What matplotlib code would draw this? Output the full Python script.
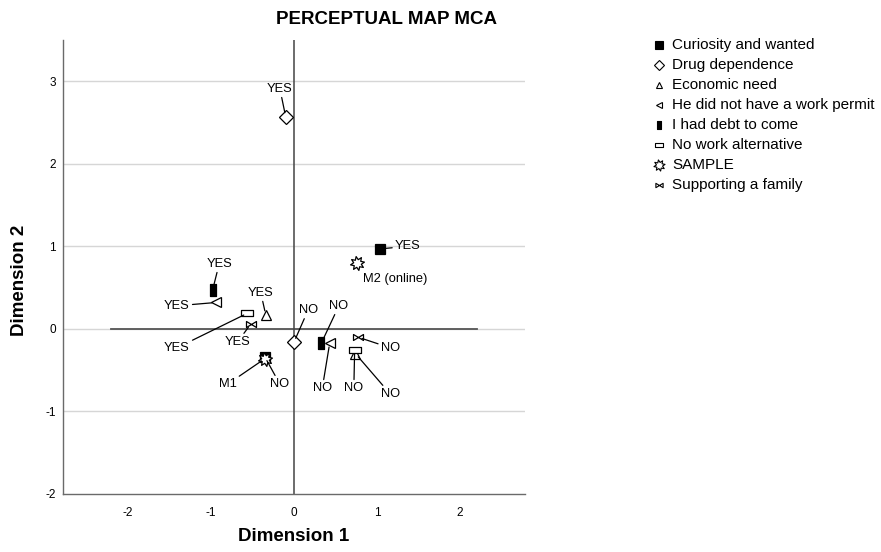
import numpy as np
import matplotlib
matplotlib.use("Agg")
import matplotlib.pyplot as plt
from matplotlib.path import Path
from matplotlib.lines import Line2D

plt.rcParams['font.family'] = ['Liberation Sans', 'DejaVu Sans']
plt.rcParams['axes.unicode_minus'] = False

# ---- data ----
variables = ["Curiosity and wanted", "Drug dependence", "Economic need",
             "He did not have a work permit", "I had debt to come",
             "No work alternative", "SAMPLE", "Supporting a family"]
cat_labels = [["YES", "NO"], ["YES", "NO"], ["YES", "NO"], ["YES", "NO"],
              ["YES", "NO"], ["YES", "NO"], ["M1", "M2 (online)"], ["YES", "NO"]]
dim1 = [[1.04, -0.35], [-0.10, 0.00], [-0.34, 0.74], [-0.94, 0.43],
        [-0.98, 0.33], [-0.56, 0.73], [-0.35, 0.76], [-0.52, 0.77]]
dim2 = [[0.97, -0.34], [2.57, -0.16], [0.17, -0.30], [0.32, -0.17],
        [0.47, -0.17], [0.19, -0.25], [-0.36, 0.80], [0.06, -0.10]]
# label text positions (data units)
lab_x = [[1.37, -0.17], [-0.17, 0.17], [-0.40, 1.16], [-1.41, 0.34],
         [-0.90, 0.54], [-1.41, 0.72], [-0.80, 1.22], [-0.68, 1.16]]
lab_y = [[1.00, -0.67], [2.91, 0.23], [0.44, -0.79], [0.28, -0.72],
         [0.79, 0.28], [-0.23, -0.72], [-0.67, 0.61], [-0.16, -0.23]]
leader = [[True, True], [True, True], [True, True], [True, True],
          [True, True], [True, True], [True, False], [True, True]]

# ---- marker shapes ----
def poly(verts):
    verts = list(verts) + [verts[0]]
    codes = [Path.MOVETO] + [Path.LINETO] * (len(verts) - 2) + [Path.CLOSEPOLY]
    return Path(verts, codes)

ang = np.linspace(0, 2 * np.pi, 17)[:-1] + np.pi / 16
rad = np.where(np.arange(16) % 2 == 0, 1.0, 0.55)
star = poly([(r * np.cos(a), r * np.sin(a)) for r, a in zip(rad, ang)])
tall_rect = poly([(-0.5, -1), (0.5, -1), (0.5, 1), (-0.5, 1)])
flat_rect = poly([(-1, -0.5), (1, -0.5), (1, 0.5), (-1, 0.5)])
bowtie = poly([(-1, 0.6), (-1, -0.6), (1, 0.6), (1, -0.6)])

mk = ['s', 'D', '^', '<', tall_rect, flat_rect, star, bowtie]
msize = [7.6, 7.2, 7.0, 7.0, 8.8, 8.8, 10.0, 7.2]
face = ['black', 'white', 'white', 'white', 'black', 'white', 'white', 'white']
leg_size = [5.4, 5.2, 4.4, 4.4, 5.4, 6.2, 8.0, 5.2]

fig = plt.figure(figsize=(8.81, 5.52), dpi=100)
ax = fig.add_axes([63 / 881, 1 - 494 / 552, (525 - 63) / 881, (494 - 40) / 552])
ax.set_xlim(-2.78, 2.78)
ax.set_ylim(-2.0, 3.5)

for sp in ['top', 'right']:
    ax.spines[sp].set_visible(False)
for sp in ['left', 'bottom']:
    ax.spines[sp].set_color('#6a6a6a')
    ax.spines[sp].set_linewidth(1.0)

ax.set_xticks([-2, -1, 0, 1, 2])
ax.set_yticks([-2, -1, 0, 1, 2, 3])
ax.tick_params(axis='x', length=0, labelsize=8.5, pad=9)
ax.tick_params(axis='y', length=0, labelsize=8.5, pad=5)
for yv in [-1, 0, 1, 2, 3]:
    ax.axhline(yv, color='#d6d6d6', lw=1.0, zorder=0)
ax.plot([-2.2, 2.2], [0, 0], color='#555555', lw=1.3, zorder=1)
ax.axvline(0, color='#444444', lw=1.1, zorder=1)

for i, var in enumerate(variables):
    ax.plot(dim1[i], dim2[i], linestyle='none', marker=mk[i], ms=msize[i],
            mfc=face[i], mec='black', mew=0.9, zorder=3)
    for j in range(2):
        if leader[i][j]:
            ax.annotate(cat_labels[i][j], xy=(dim1[i][j], dim2[i][j]),
                        xytext=(lab_x[i][j], lab_y[i][j]), ha='center', va='center',
                        fontsize=9.3, zorder=4,
                        arrowprops=dict(arrowstyle='-', color='black', lw=0.9,
                                        shrinkA=0, shrinkB=3))
        else:
            ax.text(lab_x[i][j], lab_y[i][j], cat_labels[i][j], ha='center',
                    va='center', fontsize=9.3, zorder=4)

ax.set_xlabel("Dimension 1", fontsize=13.5, fontweight='bold')
ax.xaxis.set_label_coords(0.5, -(528 - 494) / 454, transform=ax.transAxes)
ax.set_ylabel("Dimension 2", fontsize=13.5, fontweight='bold')
ax.yaxis.set_label_coords(-(63 - 28) / 462, (494 - 280) / 454, transform=ax.transAxes)
fig.text(386 / 881, 1 - 19 / 552, "PERCEPTUAL MAP MCA", ha='center', va='center',
         fontsize=13.5, fontweight='bold')

# legend (drawn row by row)
for i, var in enumerate(variables):
    ypx = 45 + 20.0 * i
    yf = 1 - ypx / 552
    fig.add_artist(Line2D([659 / 881], [yf], transform=fig.transFigure,
                          linestyle='none', marker=mk[i], ms=leg_size[i],
                          mfc=face[i], mec='black', mew=0.8))
    fig.text(672 / 881, yf, var, ha='left', va='center', fontsize=11)

fig.savefig("out.png", dpi=100)
